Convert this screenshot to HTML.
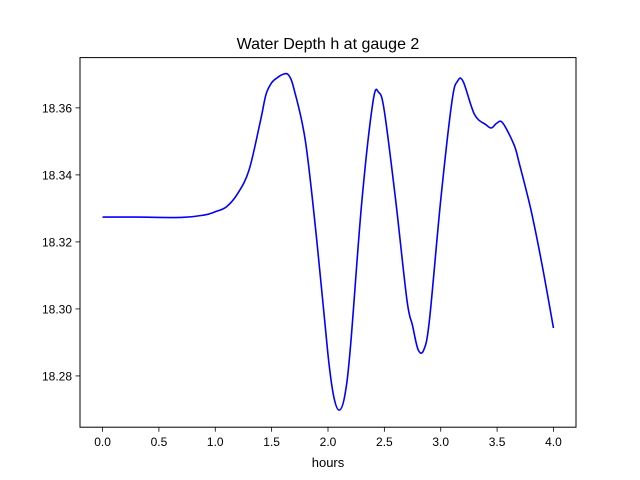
<!DOCTYPE html>
<html><head><meta charset="utf-8"><style>
html,body{margin:0;padding:0;background:#fff;}
svg{display:block;font-family:"Liberation Sans","DejaVu Sans",sans-serif;}
</style></head><body>
<svg id="chart" width="640" height="480">
<text x="328" y="49" text-anchor="middle" font-size="16">Water Depth h at gauge 2</text>
<g id="plot"></g>
<text x="328" y="467" text-anchor="middle" font-size="13">hours</text>
</svg>
<script>
const hours=[0,0.3,0.7,0.9,1.0,1.1,1.2,1.3,1.4,1.45,1.5,1.55,1.6,1.65,1.7,1.8,1.9,2.0,2.05,2.1,2.15,2.2,2.3,2.4,2.45,2.5,2.6,2.7,2.75,2.8,2.85,2.9,3.0,3.1,3.15,3.2,3.3,3.4,3.45,3.5,3.55,3.65,3.7,3.8,3.9,4.0];
const depth=[18.3274,18.3274,18.3273,18.3280,18.3290,18.3305,18.3345,18.3415,18.3560,18.3640,18.3675,18.3690,18.3700,18.3698,18.3654,18.3500,18.3206,18.2863,18.2740,18.2698,18.2743,18.2890,18.3320,18.3620,18.3646,18.3590,18.3325,18.3027,18.2950,18.2878,18.2878,18.2967,18.3325,18.3620,18.3680,18.3678,18.3580,18.3550,18.3540,18.3555,18.3555,18.3490,18.3430,18.3296,18.3130,18.2943];
const xTicks=[0,0.5,1,1.5,2,2.5,3,3.5,4];
const xTickLabels=["0.0","0.5","1.0","1.5","2.0","2.5","3.0","3.5","4.0"];
const yTicks=[18.28,18.30,18.32,18.34,18.36];
const yTickLabels=["18.28","18.30","18.32","18.34","18.36"];
const L=80,R=576,T=57.6,B=427.2,xmin=-0.2,xmax=4.2,ymin=18.2647,ymax=18.375;
const sx=v=>L+(v-xmin)/(xmax-xmin)*(R-L);
const sy=v=>B-(v-ymin)/(ymax-ymin)*(B-T);
const NS="http://www.w3.org/2000/svg";
const g=document.getElementById('plot');
function mk(t,a){const e=document.createElementNS(NS,t);for(const k in a)e.setAttribute(k,a[k]);g.appendChild(e);return e;}
const P=hours.map((h,i)=>[sx(h),sy(depth[i])]);
let d="M"+P[0][0].toFixed(2)+","+P[0][1].toFixed(2);
for(let i=0;i<P.length-1;i++){
  const p0=P[Math.max(0,i-1)],p1=P[i],p2=P[i+1],p3=P[Math.min(P.length-1,i+2)];
  const c1=[p1[0]+(p2[0]-p0[0])/6,p1[1]+(p2[1]-p0[1])/6];
  const c2=[p2[0]-(p3[0]-p1[0])/6,p2[1]-(p3[1]-p1[1])/6];
  d+=" C"+c1[0].toFixed(2)+","+c1[1].toFixed(2)+" "+c2[0].toFixed(2)+","+c2[1].toFixed(2)+" "+p2[0].toFixed(2)+","+p2[1].toFixed(2);
}
const line=mk('path',{d:d,fill:'none',stroke:'#0000ff','stroke-width':1.6,'stroke-linejoin':'round'});


const frame=mk('rect',{x:L,y:T,width:R-L,height:B-T,fill:'none',stroke:'#000','stroke-width':1});


xTicks.forEach((v,i)=>{
  const x=sx(v);
  const t=mk('line',{x1:x,x2:x,y1:B,y2:B+4.5,stroke:'#000','stroke-width':0.8});
  
  
  const l=mk('text',{x:x,y:B+19,'text-anchor':'middle','font-size':12});
  l.textContent=xTickLabels[i];
  
  
});
yTicks.forEach((v,i)=>{
  const y=sy(v);
  const t=mk('line',{x1:L-4.5,x2:L,y1:y,y2:y,stroke:'#000','stroke-width':0.8});
  
  
  const l=mk('text',{x:L-8,y:y+4.5,'text-anchor':'end','font-size':12});
  l.textContent=yTickLabels[i];
  
  
});
</script>
</body></html>
